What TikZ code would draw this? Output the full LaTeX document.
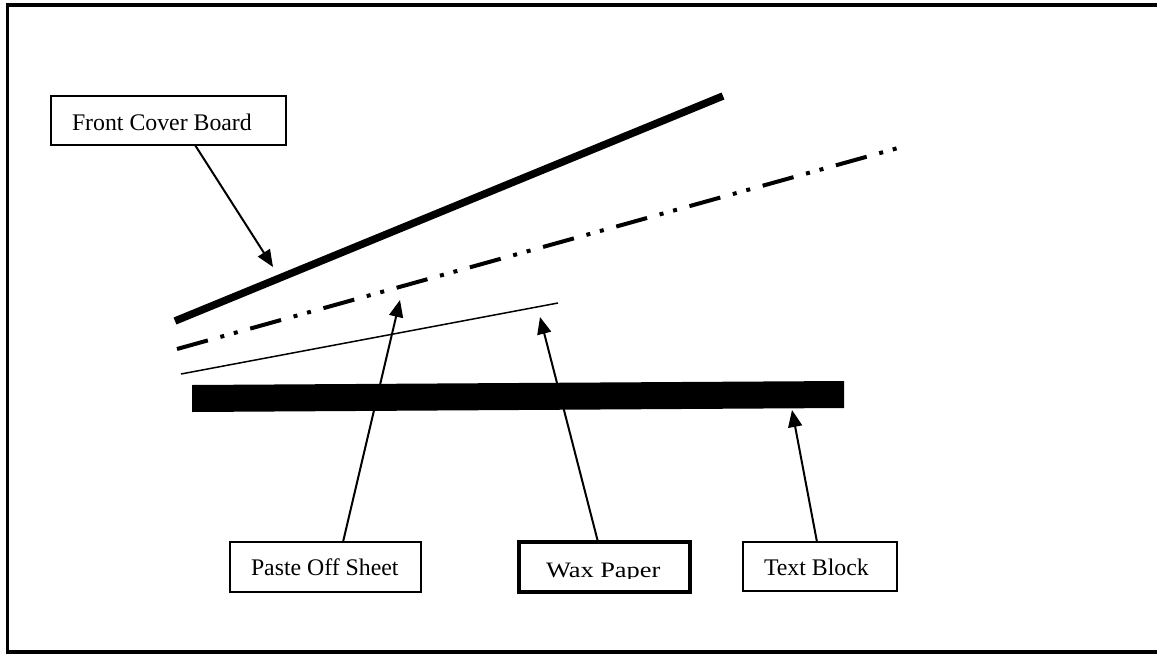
\documentclass[tikz,border=0pt]{standalone}
\usepackage{fontspec}
\setmainfont{Liberation Serif}
\usetikzlibrary{arrows.meta}
\begin{document}
\begin{tikzpicture}[x=1pt,y=-1pt,
  box/.style={draw, line width=2pt, minimum width=#1, inner sep=0pt, outer sep=0pt},
  lbl/.style={inner sep=0pt, outer sep=0pt, font=\fontsize{23.8}{28}\selectfont},
  arr/.style={line width=2pt, -{Triangle[length=17pt,width=14pt]}},
  board/.style={line width=7.5pt},
  pasteoff/.style={line width=4pt, dash pattern=on 32pt off 13pt on 4pt off 10pt on 4pt off 13pt},
  wax/.style={line width=1.5pt}
]
\useasboundingbox (0,0) rectangle (1157,656);
\clip (0,0) rectangle (1157,656);
% outer frame
\draw[line width=3.5pt] (7.5,5) rectangle (1175,652);

% layers
\draw[board] (175,321) -- (723,96);
\draw[pasteoff] (177,349) -- (898,148);
\draw[wax] (181,374) -- (558,303);
\fill (192,385) -- (844,381) -- (844,408) -- (192,412) -- cycle;

% boxes
\node[box=235pt, minimum height=49pt] (fcb) at (168.5,120.5) {};
\node[lbl, anchor=base west] (fcbt) at (72,130) {Front Cover Board};

\node[box=191pt, minimum height=50pt] (paste) at (325.5,567) {};
\node[lbl, anchor=base west] (pastet) at (251,575) {Paste Off Sheet};

\node[box=171pt, minimum height=50pt, line width=4pt] (waxb) at (604.5,567) {};
\begin{scope}
\clip (521,544) rectangle (688,578.5);
\node[lbl, anchor=base west, font=\fontsize{22}{26}\selectfont] (waxt) at (546,577) {\scalebox{1.2}[1]{Wax Paper}};
\end{scope}

\node[box=154pt, minimum height=49pt] (tb) at (820,566.5) {};
\node[lbl, anchor=base west] (tbt) at (764,575) {Text Block};

% arrow tips
\coordinate (tipF) at (273,267);
\coordinate (tipP) at (400,300);
\coordinate (tipW) at (540,317);
\coordinate (tipT) at (792,410);

\draw[arr] ([xshift=26.5pt]fcb.south) -- (tipF);
\draw[arr] ([xshift=17.5pt]paste.north) -- (tipP);
\draw[arr] ([xshift=-6.5pt]waxb.north) -- (tipW);
\draw[arr] ([xshift=-3pt]tb.north) -- (tipT);
\end{tikzpicture}
\end{document}
